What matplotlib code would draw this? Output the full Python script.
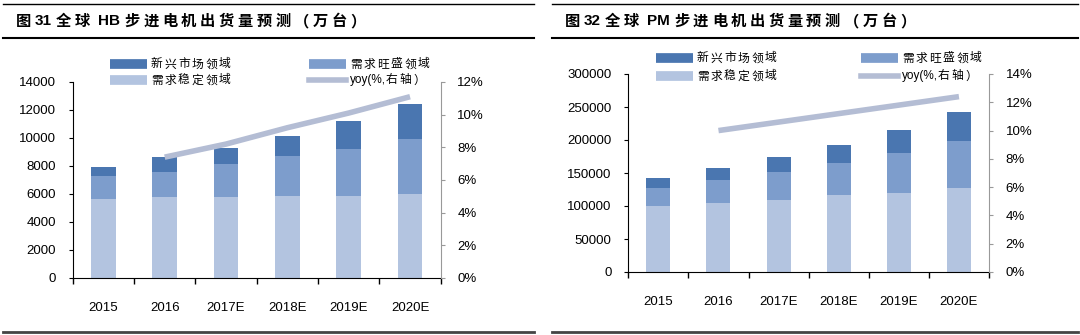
import re
import matplotlib.pyplot as plt
import numpy as np
from matplotlib.lines import Line2D

plt.rcParams['font.family'] = ['Liberation Sans', 'Noto Sans CJK SC', 'DejaVu Sans']

years = ['2015', '2016', '2017E', '2018E', '2019E', '2020E']

# HB stepper motors (10k units)
hb_stable = [5650, 5760, 5760, 5880, 5880, 5980]
hb_strong = [1650, 1810, 2360, 2830, 3330, 3970]
hb_new = [650, 1070, 1190, 1430, 2000, 2450]
hb_yoy = [np.nan, 7.4, 8.2, 9.2, 10.1, 11.1]

# PM stepper motors (10k units)
pm_stable = [100000, 105000, 109000, 116000, 120000, 127000]
pm_strong = [27000, 35000, 43000, 49000, 61000, 72000]
pm_new = [16000, 17000, 22000, 27000, 34000, 43000]
pm_yoy = [np.nan, 10.0, 10.6, 11.2, 11.8, 12.4]

labels = ['新兴市场领域', '需求旺盛领域', '需求稳定领域', 'yoy(%,右轴）']

c_new = '#4A76B0'
c_strong = '#7D9DCC'
c_stable = '#B3C4E0'
c_line = '#B4BDD4'

fig = plt.figure(figsize=(10.8, 3.35), dpi=100)
W, H = 1080, 335
renderer = fig.canvas.get_renderer()
cjk = ['Noto Sans CJK SC', 'DejaVu Sans']
latin = ['Liberation Sans', 'DejaVu Sans']


def fx(px):
    return px / W


def fy(py):
    return 1 - py / H


def spaced_text(px, py, s, track, **kw):
    # latin runs kept whole, extra spacing after each CJK glyph
    for tok in re.findall(r'[ -~]+|.', s):
        ascii_run = tok[0] < '\u0080'
        body = tok.strip() if ascii_run else tok
        lead = len(tok) - len(tok.lstrip()) if ascii_run else 0
        trail = len(tok) - len(tok.rstrip()) if ascii_run else 0
        sp = kw.get('fontsize', 10) * 0.28 * 100 / 72
        px += lead * sp
        if body:
            t = fig.text(fx(px), fy(py), body, va='center', ha='left',
                         family=latin if ascii_run else cjk, **kw)
            px += t.get_window_extent(renderer).width
        px += trail * sp
        if not ascii_run:
            px += track


def draw_panel(rect, stable, strong, new, yoy, ymax, ystep, rmax, title, tx, lx0, lx1, lrow):
    ax = fig.add_axes(rect)
    x = np.arange(len(years))
    b1 = ax.bar(x, stable, width=0.4, color=c_stable, zorder=2)
    b2 = ax.bar(x, strong, width=0.4, bottom=stable, color=c_strong, zorder=2)
    b3 = ax.bar(x, new, width=0.4, bottom=np.array(stable) + np.array(strong), color=c_new, zorder=2)
    ax.set_xlim(-0.5, len(years) - 0.5)
    ax.set_ylim(0, ymax)
    ax.set_yticks(np.arange(0, ymax + 1, ystep))
    ax.set_xticks(x)
    ax.set_xticklabels(years)
    ax.set_xticks(np.arange(-0.5, len(years), 1), minor=True)
    ax.tick_params(axis='x', which='major', length=0, pad=17, labelsize=9.5)
    ax.tick_params(axis='x', which='minor', length=4, direction='out', width=1)
    ax.tick_params(axis='y', length=3, direction='out', pad=9, labelsize=9.5)
    for s in ['top', 'right']:
        ax.spines[s].set_visible(False)

    ax2 = ax.twinx()
    ln, = ax2.plot(x, yoy, color=c_line, lw=4, solid_capstyle='butt', zorder=3)
    ax2.set_ylim(0, rmax)
    ax2.set_yticks(np.arange(0, rmax + 0.1, 2))
    ax2.set_yticklabels(['%d%%' % v for v in np.arange(0, rmax + 0.1, 2)])
    ax2.tick_params(axis='y', length=3, direction='out', pad=9, labelsize=9.5, color='#999999')
    for s in ['top', 'left', 'bottom']:
        ax2.spines[s].set_visible(False)
    ax2.spines['right'].set_color('#999999')

    # legend, 2 x 2
    handles = [b3, b2, b1, ln]
    pos = [(lx0, lrow[0]), (lx1, lrow[0]), (lx0, lrow[1]), (lx1, lrow[1])]
    for h, lab, (px, py) in zip(handles, labels, pos):
        if h is ln:
            fig.add_artist(Line2D([fx(px), fx(px + 37)], [fy(py), fy(py)], color=c_line, lw=4))
        else:
            fig.add_artist(Line2D([fx(px), fx(px + 37)], [fy(py), fy(py)],
                                  color=h.patches[0].get_facecolor(), lw=7, solid_capstyle='butt'))
        spaced_text(px + 41, py, lab, 1.8, fontsize=8.5)

    spaced_text(tx, 21, title, 3.6, fontsize=11, fontweight='bold')
    return ax


draw_panel([fx(72.7), fy(278), fx(368), 196 / H], hb_stable, hb_strong, hb_new, hb_yoy,
           14000, 2000, 12, '图31 全球 HB 步进电机出货量预测（万台）', 16, 110, 309, (64, 80))
draw_panel([fx(628.3), fy(272), fx(360.7), 198 / H], pm_stable, pm_strong, pm_new, pm_yoy,
           300000, 50000, 14, '图32 全球 PM 步进电机出货量预测（万台）', 565, 656, 861, (58, 76))

# frame rules
for x0, x1 in [(3, 534), (552, 1078)]:
    fig.add_artist(Line2D([fx(x0), fx(x1)], [fy(4), fy(4)], color='black', lw=1))
    fig.add_artist(Line2D([fx(x0), fx(x1)], [fy(38), fy(38)], color='black', lw=1.5))
    fig.add_artist(Line2D([fx(x0), fx(x1)], [fy(332), fy(332)], color='#444444', lw=2))

fig.savefig('out.png', dpi=100)
